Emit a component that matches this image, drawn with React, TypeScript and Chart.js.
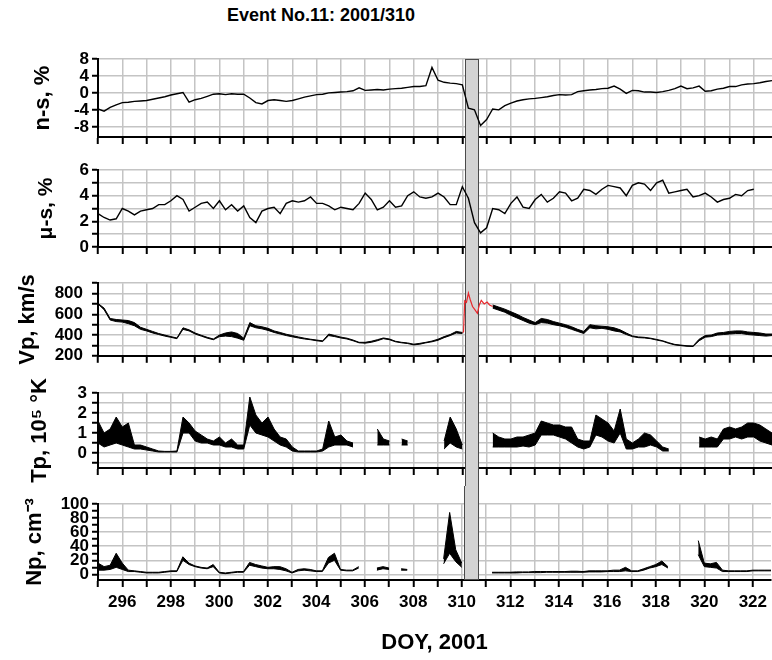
import React, { useEffect, useRef } from "react";
import { Chart, registerables } from "chart.js";

Chart.register(...registerables);

const FONT = "'Liberation Sans', Arial, Helvetica, sans-serif";

const TITLE_TEXT = "Event No.11: 2001/310";
const X_TITLE = "DOY, 2001";
const CME_BAND = [310.1, 310.65];

const X_TICKS = [
  295, 296, 297, 298, 299, 300, 301, 302, 303, 304, 305, 306, 307, 308,
  309, 310, 311, 312, 313, 314, 315, 316, 317, 318, 319, 320, 321, 322,
];

// sampling grid (day of year)
const DOY = [
  295, 295.25, 295.5, 295.75, 296, 296.25, 296.5, 296.75,
  297, 297.25, 297.5, 297.75, 298, 298.25, 298.5, 298.75,
  299, 299.25, 299.5, 299.75, 300, 300.25, 300.5, 300.75,
  301, 301.25, 301.5, 301.75, 302, 302.25, 302.5, 302.75,
  303, 303.25, 303.5, 303.75, 304, 304.25, 304.5, 304.75,
  305, 305.25, 305.5, 305.75, 306, 306.25, 306.5, 306.75,
  307, 307.25, 307.5, 307.75, 308, 308.25, 308.5, 308.75,
  309, 309.25, 309.5, 309.75, 310, 310.25, 310.5, 310.75,
  311, 311.25, 311.5, 311.75, 312, 312.25, 312.5, 312.75,
  313, 313.25, 313.5, 313.75, 314, 314.25, 314.5, 314.75,
  315, 315.25, 315.5, 315.75, 316, 316.25, 316.5, 316.75,
  317, 317.25, 317.5, 317.75, 318, 318.25, 318.5, 318.75,
  319, 319.25, 319.5, 319.75, 320, 320.25, 320.5, 320.75,
  321, 321.25, 321.5, 321.75, 322, 322.25, 322.5, 322.75,
];

// n-s, %
const NS = [
  -3.8, -4.3, -3.4, -2.8, -2.3, -2.2, -2.0, -1.9,
  -1.8, -1.5, -1.2, -0.9, -0.5, -0.2, 0.1, -2.2,
  -1.6, -1.3, -0.8, -0.3, -0.2, -0.4, -0.2, -0.3,
  -0.3, -1.2, -2.3, -2.6, -1.8, -1.6, -1.8, -2.0,
  -1.8, -1.4, -1.0, -0.7, -0.4, -0.3, 0.0, 0.1,
  0.2, 0.3, 0.5, 1.2, 0.6, 0.7, 0.8, 0.7,
  0.9, 1.0, 1.1, 1.3, 1.5, 1.5, 1.7, 6.0,
  3.0, 2.5, 2.3, 2.2, 1.9, -3.6, -4.0, -7.7,
  -6.3, -3.8, -4.0, -3.0, -2.4, -1.9, -1.6, -1.4,
  -1.3, -1.1, -0.9, -0.6, -0.4, -0.5, -0.4, 0.3,
  0.5, 0.7, 0.8, 1.0, 1.1, 1.6, 0.9, -0.1,
  0.6, 0.5, 0.2, 0.2, 0.1, 0.3, 0.6, 1.0,
  1.6, 1.0, 1.2, 1.6, 0.4, 0.5, 0.9, 1.1,
  1.5, 1.5, 1.9, 2.1, 2.2, 2.4, 2.7, 2.9,
];

// mu-s, %
const MUS = [
  2.6, 2.3, 2.1, 2.2, 3.0, 2.8, 2.5, 2.8,
  2.9, 3.0, 3.3, 3.3, 3.6, 4.0, 3.7, 2.8,
  3.1, 3.4, 3.5, 3.0, 3.6, 2.9, 3.3, 2.8,
  3.2, 2.3, 1.9, 2.8, 3.0, 3.1, 2.6, 3.4,
  3.6, 3.5, 3.6, 3.9, 3.4, 3.4, 3.2, 2.9,
  3.1, 3.0, 2.9, 3.4, 4.2, 3.7, 2.9, 3.1,
  3.6, 3.1, 3.2, 4.0, 4.3, 3.9, 3.8, 3.9,
  4.2, 3.9, 3.3, 3.3, 4.7, 3.8, 1.9, 1.1,
  1.5, 3.0, 2.9, 2.6, 3.4, 3.9, 3.1, 3.0,
  3.7, 4.1, 3.5, 3.8, 4.3, 4.2, 3.6, 3.8,
  4.5, 4.4, 4.1, 4.5, 4.8, 4.7, 4.6, 4.0,
  4.8, 5.0, 4.9, 4.4, 5.0, 5.2, 4.2, 4.3,
  4.4, 4.5, 3.9, 4.0, 4.2, 3.9, 3.5, 3.7,
  3.8, 4.1, 4.0, 4.4, 4.5, null, null, null,
];

// Vp, km/s (lower / upper envelope of the 1-min trace)
const VP_LO = [
  700, 645, 545, 530, 525, 510, 490, 455,
  440, 420, 405, 390, 378, 365, 455, 440,
  410, 390, 370, 355, 385, 390, 385, 370,
  350, 490, 470, 460, 445, 425, 410, 395,
  383, 372, 362, 355, 345, 338, 395, 385,
  372, 362, 345, 325, 322, 330, 345, 365,
  355, 335, 325, 318, 305, 312, 325, 335,
  350, 375, 395, 420, 415, null, null, null,
  null, 660, 640, 620, 590, 565, 540, 515,
  500, 520, 515, 500, 490, 475, 455, 435,
  415, 470, 460, 465, 455, 440, 430, 405,
  385, 375, 372, 365, 352, 340, 320, 305,
  298, 292, 290, 345, 380, 385, 400, 405,
  410, 415, 415, 405, 400, 395, 390, 395,
];
const VP_HI = [
  705, 660, 560, 550, 545, 540, 520, 475,
  455, 435, 415, 400, 385, 372, 470, 450,
  420, 398, 378, 362, 400, 420, 430, 415,
  370, 520, 490, 480, 465, 440, 425, 408,
  395, 382, 370, 360, 352, 344, 410, 395,
  380, 370, 352, 330, 330, 340, 355, 372,
  362, 340, 330, 324, 312, 320, 330, 342,
  360, 385, 405, 435, 425, null, null, null,
  null, 690, 670, 650, 625, 600, 570, 545,
  520, 560, 550, 530, 515, 500, 480, 455,
  435, 500, 490, 485, 480, 470, 450, 420,
  392, 382, 378, 370, 358, 345, 326, 310,
  303, 297, 295, 360, 395, 400, 420, 425,
  435, 440, 440, 430, 425, 420, 410, 410,
];
// Vp inside the disturbance (red)
const VP_SHOCK_DOY = [310.0, 310.05, 310.1, 310.17, 310.25, 310.32, 310.42, 310.5, 310.62, 310.7, 310.78, 310.9, 311.02, 311.12, 311.25];
const VP_SHOCK = [425, 430, 730, 715, 805, 745, 675, 650, 610, 690, 735, 700, 718, 690, 675];

// Tp, 10^5 K (envelope)
const TP_LO = [
  0.5, 0.3, 0.4, 0.5, 0.4, 0.3, 0.2, 0.2,
  0.15, 0.1, 0.05, 0.05, 0.05, 0.05, 1.0, 1.0,
  0.6, 0.5, 0.5, 0.4, 0.4, 0.3, 0.3, 0.2,
  0.2, 1.4, 1.0, 0.9, 0.8, 0.6, 0.4, 0.3,
  0.1, 0.05, 0.05, 0.05, 0.05, 0.1, 0.3, 0.4,
  0.4, 0.4, 0.3, null, null, null, 0.4, 0.4,
  0.4, null, 0.4, 0.4, null, null, null, null,
  null, 0.2, 0.5, 0.3, 0.2, null, null, null,
  null, 0.3, 0.3, 0.3, 0.3, 0.3, 0.35, 0.3,
  0.4, 0.9, 0.9, 0.9, 0.8, 0.7, 0.5, 0.3,
  0.2, 0.3, 0.9, 0.8, 0.6, 0.5, 1.0, 0.2,
  0.2, 0.3, 0.3, 0.4, 0.3, 0.1, 0.1, null,
  null, null, null, 0.3, 0.3, 0.3, 0.3, 0.7,
  0.7, 0.8, 0.7, 0.8, 0.8, 0.6, 0.5, 0.4,
];
const TP_HI = [
  1.6, 1.0, 1.2, 1.8, 1.3, 1.5, 0.4, 0.4,
  0.3, 0.2, 0.1, 0.08, 0.08, 0.1, 1.8, 1.5,
  1.1, 0.9, 0.7, 0.6, 0.8, 0.5, 0.7, 0.4,
  0.4, 2.8, 1.9, 1.5, 1.8, 1.2, 0.8, 0.7,
  0.3, 0.1, 0.1, 0.1, 0.1, 0.2, 1.6, 0.8,
  0.9, 0.6, 0.5, null, null, null, 1.2, 0.7,
  0.6, null, 0.7, 0.6, null, null, null, null,
  null, 0.6, 1.8, 1.2, 0.4, null, null, null,
  null, 1.0, 0.8, 0.7, 0.7, 0.8, 0.8, 0.9,
  1.0, 1.6, 1.5, 1.4, 1.4, 1.3, 1.3, 0.7,
  0.6, 0.6, 1.9, 1.7, 1.5, 1.1, 2.2, 0.7,
  0.5, 0.7, 1.0, 0.9, 0.6, 0.3, 0.2, null,
  null, null, null, 0.8, 0.7, 0.8, 0.7, 1.2,
  1.3, 1.2, 1.3, 1.5, 1.5, 1.4, 1.2, 1.0,
];

// Np, cm^-3 (envelope)
const NP_LO = [
  6, 6, 7, 10, 7, 4, 4, 3,
  2, 2, 2, 3, 4, 4, 20, 14,
  11, 9, 8, 11, 2, 1, 2, 3,
  3, 13, 11, 9, 8, 8, 7, 5,
  2, 5, 6, 5, 4, 4, 16, 20,
  6, 5, 5, 9, null, null, 6, 8,
  7, null, 6, 6, null, null, null, null,
  null, 15, 30, 18, 10, null, null, null,
  null, 2, 2, 2, 2, 2, 2.5, 2.5,
  2.5, 2.5, 3, 3, 3, 3, 3, 3,
  3, 3.5, 3.5, 3.5, 4, 4, 4, 5,
  4, 4, 6, 9, 11, 14, 9, null,
  null, null, null, 28, 11, 10, 9, 4,
  4, 4, 4, 4, 5, 5, 5, 5,
];
const NP_HI = [
  16, 11, 13, 30, 16, 6, 5, 4,
  3, 3, 3, 4, 5, 5, 25, 16,
  12, 10, 9, 14, 3, 2, 3, 4,
  4, 17, 14, 12, 10, 11, 11, 8,
  3, 7, 8, 7, 5, 5, 24, 30,
  7, 6, 6, 11, null, null, 9, 11,
  9, null, 8, 7, null, null, null, null,
  null, 22, 88, 35, 16, null, null, null,
  null, 3, 3, 3, 3, 3.5, 3.5, 3.5,
  4, 4, 4, 4, 4, 4, 4.5, 4.5,
  4, 5, 5, 5, 5, 6, 6, 10,
  5, 5, 8, 11, 14, 19, 11, null,
  null, null, null, 48, 16, 15, 17, 6,
  5, 5, 5, 5, 6, 6, 6, 6,
];

// y-axis tick positions
const NS_TICKS = [-8, -4, 0, 4, 8];
const MUS_TICKS = [0, 1, 2, 3, 4, 5, 6];
const VP_TICKS = [200, 300, 400, 500, 600, 700, 800, 900];
const TP_TICKS = [-0.5, 0, 0.5, 1, 1.5, 2, 2.5, 3];
const NP_TICKS = [0, 10, 20, 30, 40, 50, 60, 70, 80, 90, 100];

const GRID = "rgb(196,196,196)";
const NO_GRID = "rgba(255,255,255,0)";

const bandPlugin = {
  id: "cmeBand",
  beforeDatasetsDraw(chart: any, _args: any, opts: any) {
    const { ctx, chartArea } = chart;
    const x = chart.scales.x;
    const x0 = Math.round(x.getPixelForValue(CME_BAND[0])) + 0.5;
    const x1 = Math.round(x.getPixelForValue(CME_BAND[1])) + 0.5;
    const top = opts.first ? chartArea.top : 0;
    const bottom = opts.last ? chartArea.bottom : chart.height;
    ctx.save();
    ctx.fillStyle = "#d3d3d3";
    ctx.fillRect(x0, top, x1 - x0, bottom - top);
    ctx.strokeStyle = "#4a4a4a";
    ctx.lineWidth = 1;
    ctx.beginPath();
    ctx.moveTo(x0, top);
    ctx.lineTo(x0, bottom);
    ctx.moveTo(x1, top);
    ctx.lineTo(x1, bottom);
    if (opts.first) {
      ctx.moveTo(x0, top + 0.5);
      ctx.lineTo(x1, top + 0.5);
    }
    if (opts.last) {
      ctx.moveTo(x0, bottom - 0.5);
      ctx.lineTo(x1, bottom - 0.5);
    }
    ctx.stroke();
    ctx.restore();
  },
};

const series = (ys: (number | null)[], color = "#000", width = 1.4) => ({
  data: DOY.map((x, i) => ({ x, y: ys[i] })),
  borderColor: color,
  backgroundColor: color,
  borderWidth: width,
  pointRadius: 0,
  fill: false,
  spanGaps: false,
  tension: 0,
});

const band = (lo: (number | null)[], hi: (number | null)[]) => [
  series(lo, "#000", 1),
  { ...series(hi, "#000", 1), fill: "-1", backgroundColor: "#000" },
];

type PanelSpec = {
  key: string;
  top: number;
  height: number;
  padTop: number;
  xAxisHeight: number;
  yMin: number;
  yMax: number;
  yTicks: number[];
  yLabel: (v: number) => string;
  yGrid: (v: number) => boolean;
  title: string;
  titleSize: number;
  titlePad: number;
  tickPad: number;
  datasets: any[];
  first?: boolean;
  last?: boolean;
};

const PANELS: PanelSpec[] = [
  {
    key: "ns", top: 30, height: 123, padTop: 29, xAxisHeight: 16,
    yMin: -10.4, yMax: 8, yTicks: NS_TICKS,
    yLabel: (v) => String(v), yGrid: () => true,
    title: "n-s, %", titleSize: 22, titlePad: 30, tickPad: 3,
    datasets: [series(NS)], first: true,
  },
  {
    key: "mus", top: 153, height: 111, padTop: 17, xAxisHeight: 17,
    yMin: 0, yMax: 6, yTicks: MUS_TICKS,
    yLabel: (v) => (v % 2 === 0 ? String(v) : ""), yGrid: () => true,
    title: "μ-s, %", titleSize: 21, titlePad: 34, tickPad: 3,
    datasets: [series(MUS)],
  },
  {
    key: "vp", top: 264, height: 111, padTop: 18, xAxisHeight: 17,
    yMin: 200, yMax: 900, yTicks: VP_TICKS,
    yLabel: (v) => (v % 200 === 0 ? String(v) : ""), yGrid: () => true,
    title: "Vp, km/s", titleSize: 22, titlePad: 15, tickPad: 9,
    datasets: [
      ...band(VP_LO, VP_HI),
      {
        data: VP_SHOCK_DOY.map((x, i) => ({ x, y: VP_SHOCK[i] })),
        borderColor: "#e8262b",
        borderWidth: 1.2,
        pointRadius: 0,
        fill: false,
        tension: 0,
      },
    ],
  },
  {
    key: "tp", top: 375, height: 111, padTop: 18, xAxisHeight: 18,
    yMin: -0.75, yMax: 3, yTicks: TP_TICKS,
    yLabel: (v) => (Number.isInteger(v) ? String(v) : ""), yGrid: () => true,
    title: "Tp, 10⁵ °K", titleSize: 22, titlePad: 27, tickPad: 5,
    datasets: band(TP_LO, TP_HI),
  },
  {
    key: "np", top: 486, height: 174, padTop: 18, xAxisHeight: 80,
    yMin: -8, yMax: 100, yTicks: NP_TICKS,
    yLabel: (v) => (v % 20 === 0 ? String(v) : ""), yGrid: (v) => v % 20 === 0,
    title: "Np, cm⁻³", titleSize: 22, titlePad: 22, tickPad: 3,
    datasets: band(NP_LO, NP_HI), last: true,
  },
];

function buildConfig(s: PanelSpec): any {
  const tickFont = { family: FONT, size: 17, weight: "bold" };
  return {
    type: "line",
    data: { datasets: s.datasets },
    options: {
      responsive: false,
      animation: false,
      devicePixelRatio: 1,
      events: [],
      layout: { padding: { top: s.padTop, left: 0, right: 0, bottom: 0 } },
      plugins: {
        legend: { display: false },
        tooltip: { enabled: false },
        title: { display: false },
        cmeBand: { first: !!s.first, last: !!s.last },
      },
      scales: {
        x: {
          type: "linear",
          min: 295,
          max: 322.75,
          afterBuildTicks: (sc: any) => {
            sc.ticks = X_TICKS.map((v) => ({ value: v }));
          },
          afterFit: (sc: any) => {
            sc.height = s.xAxisHeight;
          },
          grid: {
            display: true,
            drawOnChartArea: true,
            color: GRID,
            lineWidth: 1.5,
            tickColor: "#000",
            tickLength: 7,
            tickWidth: 2,
          },
          border: { color: "#000", width: 2 },
          ticks: {
            display: !!s.last,
            autoSkip: false,
            maxRotation: 0,
            minRotation: 0,
            padding: 5,
            color: "#000",
            font: tickFont,
            callback: (v: number) => (v % 2 === 0 ? String(v) : ""),
          },
          title: {
            display: !!s.last,
            text: X_TITLE,
            color: "#000",
            font: { family: FONT, size: 22, weight: "bold" },
            padding: { top: 0, bottom: 4 },
          },
        },
        y: {
          type: "linear",
          min: s.yMin,
          max: s.yMax,
          afterBuildTicks: (sc: any) => {
            sc.ticks = s.yTicks.map((v) => ({ value: v }));
          },
          afterFit: (sc: any) => {
            sc.width = 98;
          },
          grid: {
            display: true,
            drawOnChartArea: true,
            color: (ctx: any) =>
              ctx.tick && s.yGrid(ctx.tick.value) ? GRID : NO_GRID,
            lineWidth: 1.5,
            tickColor: "#000",
            tickLength: 6,
            tickWidth: 2,
          },
          border: { color: "#000", width: 2 },
          ticks: {
            autoSkip: false,
            padding: s.tickPad,
            color: "#000",
            font: tickFont,
            callback: (v: number) => s.yLabel(v),
          },
          title: {
            display: true,
            text: s.title,
            color: "#000",
            font: { family: FONT, size: s.titleSize, weight: "bold", lineHeight: 1.2 },
            padding: { top: s.titlePad, bottom: 0 },
          },
        },
      },
    },
    plugins: [bandPlugin],
  };
}

function Panel({ spec }: { spec: PanelSpec }) {
  const ref = useRef<HTMLCanvasElement>(null);
  useEffect(() => {
    if (!ref.current) return;
    const chart = new Chart(ref.current, buildConfig(spec));
    return () => chart.destroy();
  }, [spec]);
  return (
    <canvas
      ref={ref}
      width={772}
      height={spec.height}
      style={{
        position: "absolute",
        left: 0,
        top: spec.top,
        width: 772,
        height: spec.height,
        display: "block",
      }}
    />
  );
}

export default function App() {
  return (
    <div
      style={{
        position: "absolute",
        left: 0,
        top: 0,
        width: 772,
        height: 660,
        background: "#fff",
        overflow: "hidden",
      }}
    >
      <div
        style={{
          position: "absolute",
          left: 0,
          top: 4,
          width: 642,
          textAlign: "center",
          font: `bold 18px ${FONT}`,
          color: "#000",
          lineHeight: "22px",
        }}
      >
        {TITLE_TEXT}
      </div>
      {PANELS.map((p) => (
        <Panel key={p.key} spec={p} />
      ))}
    </div>
  );
}
